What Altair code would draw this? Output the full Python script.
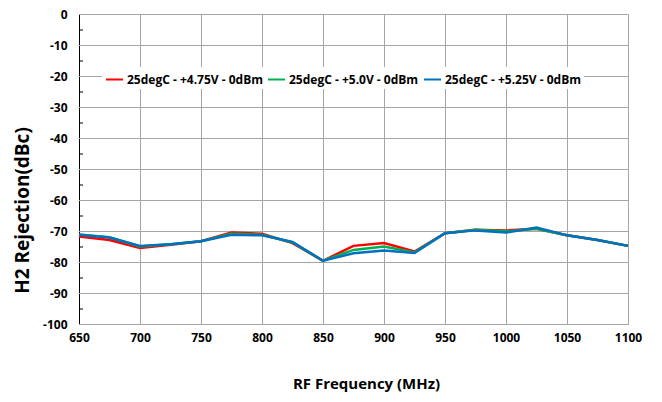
import altair as alt
import pandas as pd

freq = [650, 675, 700, 725, 750, 775, 800, 825, 850, 875, 900, 925, 950, 975, 1000, 1025, 1050, 1075, 1100]
v475 = [-71.8, -72.9, -75.5, -74.4, -73.3, -70.5, -70.9, -73.9, -79.6, -74.8, -73.9, -76.6, -70.7, -69.6, -69.8, -69.3, -71.4, -72.9, -74.8]
v50 = [-71.1, -72.0, -75.0, -74.3, -73.3, -70.9, -71.2, -73.7, -79.6, -76.1, -75.0, -76.9, -70.7, -69.6, -70.1, -69.3, -71.4, -72.9, -74.8]
v525 = [-71.2, -72.1, -74.8, -74.3, -73.3, -71.2, -71.4, -73.5, -79.6, -77.2, -76.3, -77.1, -70.7, -69.8, -70.5, -68.9, -71.4, -72.9, -74.8]
series = ["25degC - +4.75V - 0dBm", "25degC - +5.0V - 0dBm", "25degC - +5.25V - 0dBm"]
colors = ["#FF0000", "#00B050", "#0070C0"]
minor_ticks = [-5, -15, -25, -35, -45, -55, -65, -75, -85, -95]
x_ticks = list(range(650, 1101, 50))
y_ticks = list(range(-100, 1, 10))
x_range = [650, 1100]
y_range = [-100, 0]

rows = []
for name, vals in zip(series, [v475, v50, v525]):
    for f, v in zip(freq, vals):
        rows.append({"freq": f, "val": v, "series": name})
df = pd.DataFrame(rows)

FONT = "Open Sans"
GRID = "#A6A6A6"

xscale = alt.Scale(domain=x_range, nice=False)
yscale = alt.Scale(domain=y_range, nice=False)

xaxis = alt.Axis(values=x_ticks, title="RF Frequency (MHz)",
                 labelExpr="'' + datum.value", labelOverlap=False,
                 grid=True, gridColor=GRID, gridWidth=1,
                 domainColor="#8C8C8C", ticks=False, labelPadding=8,
                 labelFont=FONT, labelFontSize=12, labelFontWeight="bold", labelColor="#000000",
                 titleFont=FONT, titleFontSize=15, titleFontWeight="bold", titleColor="#000000",
                 titleX=287, titleY=59, titleBaseline="middle", titleAlign="center",
                 labelFlush=False)
yaxis = alt.Axis(values=y_ticks, title="H2 Rejection(dBc)",
                 labelExpr="'' + datum.value", labelOverlap=False,
                 grid=True, gridColor=GRID, gridWidth=1,
                 domainColor="#000000", ticks=False, labelPadding=12,
                 labelFont=FONT, labelFontSize=12, labelFontWeight="bold", labelColor="#000000",
                 titleFont=FONT, titleFontSize=19, titleFontWeight="bold", titleColor="#000000",
                 titleAngle=270, titleX=-57, titleY=196, titleBaseline="middle",
                 titleAlign="center")

gdf = pd.DataFrame({"g": y_ticks, "x0": x_range[0], "x1": x_range[1]})
grid = alt.Chart(gdf).mark_rule(color=GRID, strokeWidth=1, yOffset=0.5).encode(
    x=alt.X("x0:Q", scale=xscale, axis=xaxis),
    x2="x1:Q",
    y=alt.Y("g:Q", scale=yscale, axis=yaxis),
)

lines = alt.Chart(df).mark_line(strokeWidth=2.5).encode(
    x=alt.X("freq:Q", scale=xscale, axis=xaxis),
    y=alt.Y("val:Q", scale=yscale, axis=yaxis),
    color=alt.Color("series:N", scale=alt.Scale(domain=series, range=colors),
                    legend=alt.Legend(orient="none", legendX=23, legendY=53, direction="horizontal",
                                      columns=3, title=None, symbolType="stroke", symbolStrokeWidth=2,
                                      symbolSize=289, fillColor="#FFFFFF", padding=3,
                                      gridAlign="none", zindex=1,
                                      labelFont=FONT, labelFontSize=12, labelFontWeight="bold",
                                      labelColor="#000000", columnPadding=1, labelOffset=3)),
)

mdf = pd.DataFrame({"m": minor_ticks, "x0": x_range[0]})
mt = alt.Chart(mdf).mark_rule(color="#000000", strokeWidth=1, yOffset=0.5).encode(
    x=alt.X("x0:Q", scale=xscale, axis=xaxis),
    x2=alt.value(4),
    y=alt.Y("m:Q", scale=yscale, axis=yaxis),
)

chart = alt.layer(grid, lines, mt).properties(
    width=549, height=310, autosize=alt.AutoSizeParams(type="none"),
    padding={"left": 71, "top": 6, "right": 26, "bottom": 70}
).configure_view(stroke=None)

chart.save("out.html", embed_options={"renderer": "svg", "actions": False})
